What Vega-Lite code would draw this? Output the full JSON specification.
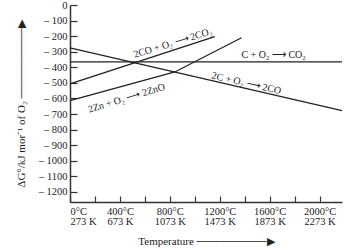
{
  "$schema": "https://vega.github.io/schema/vega-lite/v6.json",
  "width": 272,
  "height": 197,
  "autosize": {"type": "none"},
  "padding": {"left": 70, "top": 5, "right": 8, "bottom": 48},
  "config": {
    "view": {"stroke": null},
    "font": "Liberation Serif",
    "axis": {
      "domainColor": "#333",
      "domainWidth": 1.5,
      "tickColor": "#333",
      "tickWidth": 1.2,
      "labelColor": "#222",
      "labelFont": "Liberation Serif",
      "labelFontSize": 10.5,
      "labelOverlap": false,
      "titleFont": "Liberation Serif",
      "titleFontSize": 11,
      "titleFontWeight": "normal",
      "titleColor": "#222",
      "grid": false
    }
  },
  "datasets": {
    "lines": [
      {"reaction": "C + O2 -> CO2", "T": 0, "G": -365},
      {"reaction": "C + O2 -> CO2", "T": 2180, "G": -365},
      {"reaction": "2C + O2 -> 2CO", "T": 0, "G": -275},
      {"reaction": "2C + O2 -> 2CO", "T": 2180, "G": -678},
      {"reaction": "2CO + O2 -> 2CO2", "T": 0, "G": -507},
      {"reaction": "2CO + O2 -> 2CO2", "T": 1160, "G": -203},
      {"reaction": "2Zn + O2 -> 2ZnO", "T": 0, "G": -614},
      {"reaction": "2Zn + O2 -> 2ZnO", "T": 840, "G": -430},
      {"reaction": "2Zn + O2 -> 2ZnO", "T": 1375, "G": -210}
    ],
    "labels": [
      {"group": "rise", "label": "2CO + O₂ ⟶ 2CO₂", "T": 824, "G": -244},
      {"group": "rise", "label": "2Zn + O₂ ⟶ 2ZnO", "T": 453, "G": -599},
      {"group": "flat", "label": "C + O₂ ⟶ CO₂", "T": 1632, "G": -321},
      {"group": "fall", "label": "2C + O₂ ⟶ 2CO", "T": 1413, "G": -503}
    ]
  },
  "encoding": {
    "x": {
      "field": "T",
      "type": "quantitative",
      "scale": {"domain": [0, 2180], "nice": false, "zero": false},
      "axis": {
        "values": [0, 200, 400, 600, 800, 1000, 1200, 1400, 1600, 1800, 2000],
        "tickSize": -6,
        "labelPadding": 10,
        "labelOverlap": false,
        "labelExpr": "datum.value % 400 == 0 ? [datum.value + '°C', (datum.value + 273) + ' K'] : ''",
        "labelLineHeight": 10,
        "title": "Temperature ─────────▶",
        "titlePadding": 9
      }
    },
    "y": {
      "field": "G",
      "type": "quantitative",
      "scale": {"domain": [-1265, 0], "nice": false, "zero": false},
      "axis": {
        "values": [-1200, -1100, -1000, -900, -800, -700, -600, -500, -400, -300, -200, -100, 0],
        "tickSize": -7,
        "labelPadding": 10,
        "labelOverlap": false,
        "labelExpr": "datum.value == 0 ? '0' : '– ' + abs(datum.value)",
        "title": "ΔG°/kJ mor⁻¹ of O₂ ─────────▶",
        "titlePadding": 12
      }
    }
  },
  "layer": [
    {
      "data": {"name": "lines"},
      "mark": {"type": "line", "color": "#222", "strokeWidth": 1.3},
      "encoding": {
        "detail": {"field": "reaction"}
      }
    },
    {
      "data": {"name": "labels"},
      "transform": [{"filter": "datum.group == 'rise'"}],
      "mark": {"type": "text", "angle": -17, "fontSize": 10, "font": "Liberation Serif", "color": "#222"},
      "encoding": {
        "text": {"field": "label"}
      }
    },
    {
      "data": {"name": "labels"},
      "transform": [{"filter": "datum.group == 'flat'"}],
      "mark": {"type": "text", "angle": 0, "fontSize": 10, "font": "Liberation Serif", "color": "#222"},
      "encoding": {
        "text": {"field": "label"}
      }
    },
    {
      "data": {"name": "labels"},
      "transform": [{"filter": "datum.group == 'fall'"}],
      "mark": {"type": "text", "angle": 13, "fontSize": 10, "font": "Liberation Serif", "color": "#222"},
      "encoding": {
        "text": {"field": "label"}
      }
    }
  ]
}
